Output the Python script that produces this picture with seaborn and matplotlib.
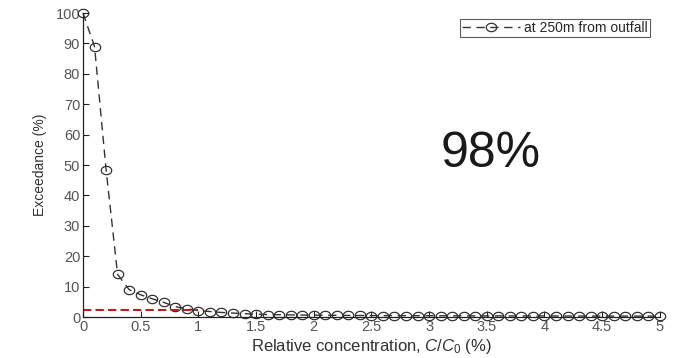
import numpy as np
import pandas as pd
import matplotlib
matplotlib.use("Agg")
import matplotlib.pyplot as plt
from matplotlib.path import Path
import seaborn as sns

# relative concentration C/C0 (%) and exceedance (%)
conc = [round(0.1 * i, 1) for i in range(51)]
exceed = [100, 89, 48.5, 14, 9, 7.3, 6, 4.8, 3.4, 2.7,
          2.1, 1.8, 1.5, 1.3, 1.1, 0.9, 0.8, 0.75, 0.7, 0.65,
          0.6, 0.58, 0.55, 0.52, 0.5, 0.48, 0.46, 0.45, 0.44, 0.43,
          0.42, 0.41, 0.4, 0.39, 0.38, 0.37, 0.36, 0.35, 0.35, 0.34,
          0.34, 0.33, 0.33, 0.32, 0.32, 0.31, 0.31, 0.3, 0.3, 0.3, 0.3]
ref_x = [0, 1.0]
ref_y = [2.4, 2.4]
xticks = [0, 0.5, 1, 1.5, 2, 2.5, 3, 3.5, 4, 4.5, 5]
yticks = list(range(0, 101, 10))

df = pd.DataFrame({"conc": conc, "exceed": exceed})

# slightly flattened open circle, like the stretched markers in the figure
t = np.linspace(0, 2 * np.pi, 40)
ellipse = Path(np.column_stack([np.cos(t), 0.8 * np.sin(t)]))

sns.set_style("ticks")
plt.rcParams["font.family"] = ["Liberation Sans", "DejaVu Sans"]
plt.rcParams["mathtext.fontset"] = "custom"
plt.rcParams["mathtext.it"] = "Liberation Sans:italic"
plt.rcParams["mathtext.rm"] = "Liberation Sans"

fig = plt.figure(figsize=(6.77, 3.58), dpi=100)
ax = fig.add_axes([0.1226, 0.1145, 0.852, 0.849])

sns.lineplot(data=df, x="conc", y="exceed", ax=ax, color="#333333",
             linestyle=(0, (6, 4)), linewidth=1.0, marker=ellipse,
             markersize=7.5, markerfacecolor="none", markeredgecolor="#333333",
             markeredgewidth=0.9, label="at 250m from outfall", clip_on=False)
ax.plot(ref_x, ref_y, color="#b22222", linestyle=(0, (4, 2)), linewidth=1.5)

ax.text(3.53, 53.5, "98%", fontsize=36, ha="center", va="center", color="#1a1a1a")

ax.set_xlim(0, 5)
ax.set_ylim(0, 100)
ax.set_xticks(xticks)
ax.set_xticklabels([f"{t:g}" for t in xticks])
ax.set_yticks(yticks)
ax.tick_params(direction="in", length=4, labelsize=10.5, labelcolor="#555555",
               color="#222222", width=0.8, pad=2)
sns.despine(ax=ax)
for s in ["left", "bottom"]:
    ax.spines[s].set_linewidth(0.9)
    ax.spines[s].set_color("#222222")

ax.set_xlabel(r"Relative concentration, $\mathit{C/C_0}$ $\mathit{(\%)}$",
              fontsize=12, color="#333333", labelpad=2)
ax.set_ylabel("Exceedance (%)", fontsize=10, color="#333333", labelpad=6)

leg = ax.legend(loc="upper right", bbox_to_anchor=(0.983, 0.98), fontsize=10,
                frameon=True, fancybox=False, edgecolor="#333333",
                handlelength=4.2, borderpad=0.15, handletextpad=0.3,
                borderaxespad=0)
leg.get_frame().set_linewidth(0.8)

fig.savefig("out.png", dpi=100)
